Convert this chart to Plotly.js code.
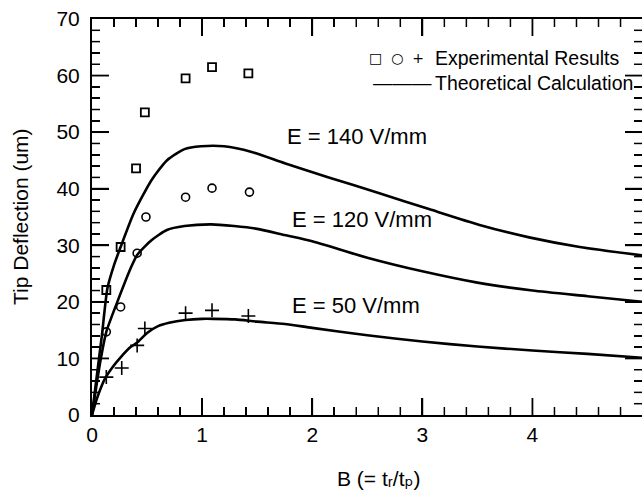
<!DOCTYPE html>
<html>
<head>
<meta charset="utf-8">
<script src="https://cdn.plot.ly/plotly-3.0.1.min.js"></script>
<style>html,body{margin:0;padding:0;background:#fff;}#chart{width:642px;height:493px;}</style>
</head>
<body>
<div id="chart"></div>
<script>
// Experimental results (B, tip deflection in um)
const B_exp140 = [0.13, 0.26, 0.40, 0.48, 0.85, 1.09, 1.42];
const D_exp140 = [22.1, 29.7, 43.6, 53.5, 59.5, 61.5, 60.4];
const B_exp120 = [0.13, 0.26, 0.41, 0.49, 0.85, 1.09, 1.43];
const D_exp120 = [14.7, 19.1, 28.6, 35.0, 38.5, 40.1, 39.4];
const B_exp50 = [0.13, 0.27, 0.41, 0.48, 0.85, 1.09, 1.42];
const D_exp50 = [6.7, 8.3, 12.3, 15.3, 18.0, 18.5, 17.5];

// Theoretical calculation curves
const B_th140 = [0, 0.03, 0.09, 0.14, 0.2, 0.26, 0.38, 0.54, 0.68, 0.84, 0.99, 1.2, 1.45, 1.75, 2.15, 2.61, 3.06, 3.52, 3.97, 4.43, 5.0];
const D_th140 = [0, 4.8, 14.1, 22.4, 26.5, 29.7, 35.7, 41.5, 45.0, 47.0, 47.5, 47.5, 46.5, 44.5, 42.0, 39.2, 36.4, 33.6, 31.4, 29.7, 28.2];
const B_th120 = [0, 0.075, 0.13, 0.23, 0.35, 0.41, 0.54, 0.68, 0.84, 1.08, 1.29, 1.5, 1.75, 2.0, 2.5, 3.0, 3.5, 4.0, 4.5, 5.0];
const D_th120 = [0, 9.4, 14.7, 20.0, 25.9, 28.3, 30.9, 32.7, 33.4, 33.7, 33.4, 32.9, 31.8, 30.7, 27.8, 25.4, 23.4, 22.0, 21.0, 20.0];
const B_th50 = [0, 0.05, 0.12, 0.2, 0.26, 0.35, 0.41, 0.5, 0.6, 0.7, 0.85, 1.0, 1.1, 1.3, 1.5, 1.75, 2.0, 2.5, 3.0, 3.5, 4.0, 4.5, 5.0];
const D_th50 = [0, 3.2, 6.5, 8.8, 10.2, 12.0, 12.8, 14.5, 15.7, 16.3, 16.8, 17.0, 17.0, 16.9, 16.5, 16.1, 15.4, 14.1, 13.0, 12.1, 11.4, 10.8, 10.1];

// Axis ticks
const xRange = [0, 4.995];
const yRange = [0, 70];
const xMajorTicks = [1, 2, 3, 4];
const xMinorTicks = [0.2, 0.4, 0.6, 0.8, 1.2, 1.4, 1.6, 1.8, 2.2, 2.4, 2.6, 2.8, 3.2, 3.4, 3.6, 3.8, 4.2, 4.4, 4.6, 4.8];
const yMajorTicks = [10, 20, 30, 40, 50, 60];
const yMinorTicks = [2, 4, 6, 8, 12, 14, 16, 18, 22, 24, 26, 28, 32, 34, 36, 38, 42, 44, 46, 48, 52, 54, 56, 58, 62, 64, 66, 68];

const xTitle = "B (= tᵣ/tₚ)";
const yTitle = "Tip Deflection (um)";
const curveLabels = ["E = 140 V/mm", "E = 120 V/mm", "E = 50 V/mm"];
const curveLabelX = [1.75, 1.80, 1.80];
const curveLabelY = [49.3, 34.5, 19.4];

const FONT = "Liberation Sans, Arial, Helvetica, DejaVu Sans, sans-serif";
const lineStyle = {color: "#000", width: 2.6, shape: "spline", smoothing: 0.6};

const traces = [
  {x: B_th140, y: D_th140, mode: "lines", line: lineStyle, name: "Theoretical 140"},
  {x: B_th120, y: D_th120, mode: "lines", line: lineStyle, name: "Theoretical 120"},
  {x: B_th50, y: D_th50, mode: "lines", line: lineStyle, name: "Theoretical 50"},
  {x: B_exp140, y: D_exp140, mode: "markers", name: "Exp 140",
   marker: {symbol: "square-open", size: 8, color: "#000", line: {width: 1.8, color: "#000"}}},
  {x: B_exp120, y: D_exp120, mode: "markers", name: "Exp 120",
   marker: {symbol: "circle-open", size: 8, color: "#000", line: {width: 1.6, color: "#000"}}},
  {x: B_exp50, y: D_exp50, mode: "markers", name: "Exp 50",
   marker: {symbol: "cross-thin-open", size: 10, color: "#000", line: {width: 1.6, color: "#000"}}}
];

const annotations = curveLabels.map((t, i) => ({
  x: curveLabelX[i], y: curveLabelY[i], xref: "x", yref: "y",
  text: t, showarrow: false, xanchor: "left", yanchor: "middle",
  font: {family: FONT, size: 22, color: "#000"}
}));
// axis titles
annotations.push({xref: "paper", yref: "paper", x: (378 - 92) / 550, y: (415 - 478) / 396,
  text: xTitle, showarrow: false, xanchor: "center", yanchor: "middle",
  font: {family: FONT, size: 21, color: "#000"}});
annotations.push({xref: "paper", yref: "paper", x: (20 - 92) / 550, y: 0.5,
  text: yTitle, showarrow: false, xanchor: "center", yanchor: "middle", textangle: -90,
  font: {family: FONT, size: 21, color: "#000"}});
// legend drawn as text
annotations.push({xref: "paper", yref: "paper", x: (367 - 92) / 550, y: (415 - 58) / 396,
  text: "□  ○  +", showarrow: false, xanchor: "left", yanchor: "middle",
  font: {family: "DejaVu Sans, sans-serif", size: 14, color: "#000"}});
annotations.push({xref: "paper", yref: "paper", x: (433 - 92) / 550, y: (415 - 58) / 396,
  text: "Experimental Results", showarrow: false, xanchor: "left", yanchor: "middle",
  font: {family: FONT, size: 19.5, color: "#000"}});
annotations.push({xref: "paper", yref: "paper", x: (371 - 92) / 550, y: (415 - 83) / 396,
  text: "———", showarrow: false, xanchor: "left", yanchor: "middle",
  font: {family: FONT, size: 19.5, color: "#000"}});
annotations.push({xref: "paper", yref: "paper", x: (433 - 92) / 550, y: (415 - 83) / 396,
  text: "Theoretical Calculation", showarrow: false, xanchor: "left", yanchor: "middle",
  font: {family: FONT, size: 19.5, color: "#000"}});

// inside tick marks on all four sides, placed through the axes' scales
const shapes = [];
function xTick(v, len, w) {
  shapes.push({type: "line", xref: "x", yref: "paper", x0: v, x1: v, ysizemode: "pixel", yanchor: 0, y0: 0, y1: len, line: {color: "#000", width: w}, layer: "above"});
  shapes.push({type: "line", xref: "x", yref: "paper", x0: v, x1: v, ysizemode: "pixel", yanchor: 1, y0: 0, y1: -len, line: {color: "#000", width: w}, layer: "above"});
}
function yTick(v, len, w) {
  shapes.push({type: "line", yref: "y", xref: "paper", y0: v, y1: v, xsizemode: "pixel", xanchor: 0, x0: 0, x1: len, line: {color: "#000", width: w}, layer: "above"});
  shapes.push({type: "line", yref: "y", xref: "paper", y0: v, y1: v, xsizemode: "pixel", xanchor: 1, x0: 0, x1: -len, line: {color: "#000", width: w}, layer: "above"});
}
xMajorTicks.forEach(v => xTick(v, 17, 1.8));
xMinorTicks.forEach(v => xTick(v, 8, 1.5));
yMajorTicks.forEach(v => yTick(v, 17, 1.8));
yMinorTicks.forEach(v => yTick(v, 8, 1.5));

const layout = {
  width: 642, height: 493,
  margin: {l: 92, r: 0, t: 19, b: 78},
  paper_bgcolor: "#fff", plot_bgcolor: "#fff",
  showlegend: false,
  font: {family: FONT, color: "#000"},
  xaxis: {
    range: xRange, tickmode: "linear", tick0: 0, dtick: 1,
    ticks: "inside", ticklen: 17, tickwidth: 1.8, tickcolor: "#000",
    showline: true, linewidth: 2.2, linecolor: "#000", mirror: "allticks",
    showgrid: false, zeroline: false,
    tickfont: {family: FONT, size: 21, color: "#000"},
    minor: {dtick: 0.2, ticks: "inside", ticklen: 8, tickwidth: 1.5, tickcolor: "#000", showgrid: false}
  },
  yaxis: {
    range: yRange, tickmode: "linear", tick0: 0, dtick: 10,
    ticks: "inside", ticklen: 17, tickwidth: 1.8, tickcolor: "#000",
    showline: true, linewidth: 2.2, linecolor: "#000", mirror: "allticks",
    showgrid: false, zeroline: false,
    ticksuffix: "\u00a0",
    tickfont: {family: FONT, size: 21, color: "#000"},
    minor: {dtick: 2, ticks: "inside", ticklen: 8, tickwidth: 1.5, tickcolor: "#000", showgrid: false}
  },
  annotations: annotations,
  shapes: shapes
};

Plotly.newPlot("chart", traces, layout, {displayModeBar: false, staticPlot: true});
</script>
</body>
</html>
